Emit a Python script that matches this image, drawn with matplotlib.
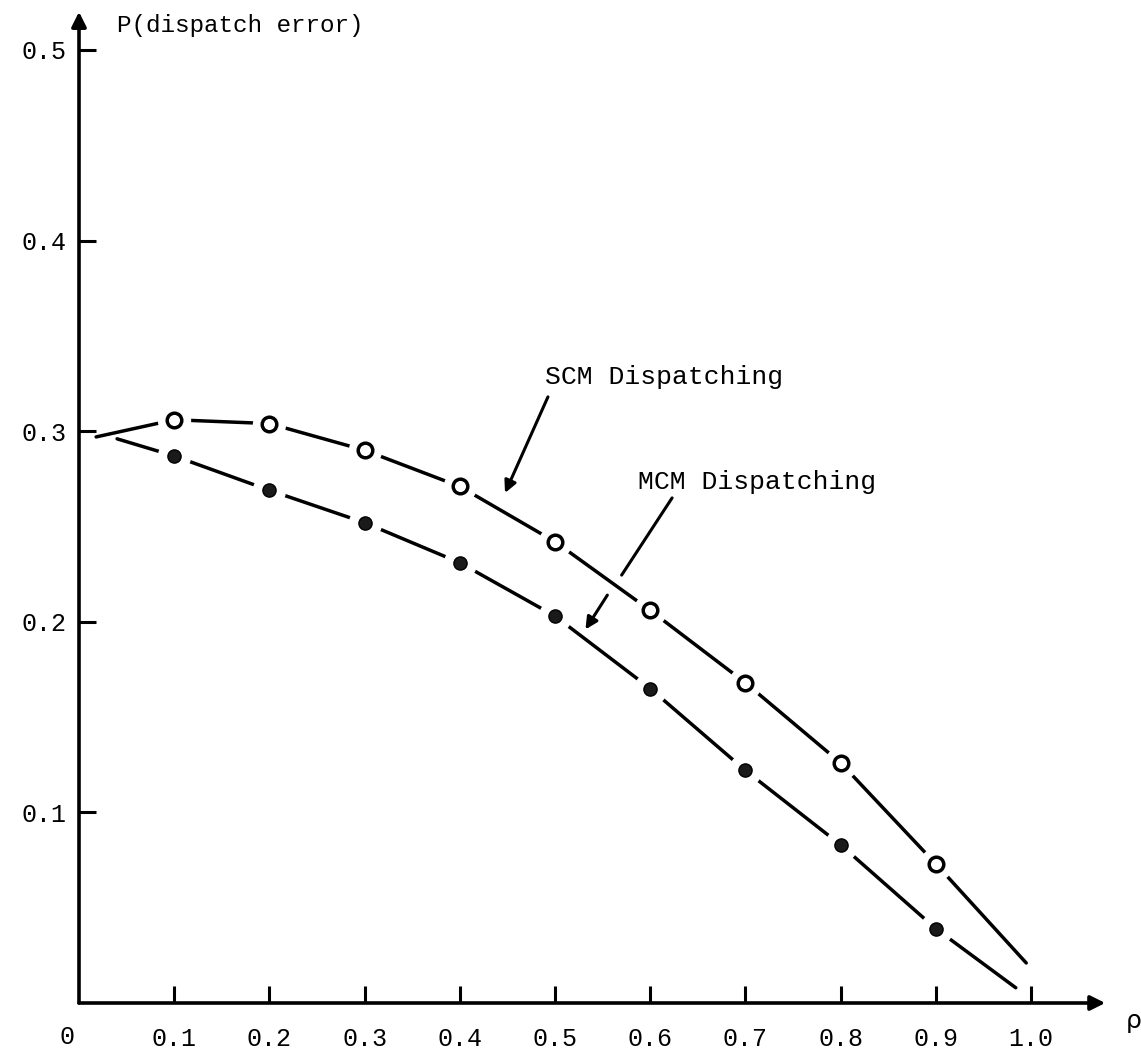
import numpy as np
import matplotlib
matplotlib.use('Agg')
import matplotlib.pyplot as plt

# values
rho = [0.1, 0.2, 0.3, 0.4, 0.5, 0.6, 0.7, 0.8, 0.9]
p_scm = [0.306, 0.304, 0.290, 0.271, 0.242, 0.206, 0.168, 0.126, 0.073]
p_mcm = [0.287, 0.269, 0.252, 0.231, 0.203, 0.165, 0.122, 0.083, 0.039]

# where the hand-drawn curves begin and end (rho, P)
scm_ends = [(0.018, 0.297), (0.995, 0.021)]
mcm_ends = [(0.040, 0.296), (0.984, 0.008)]

xticks = [0.1, 0.2, 0.3, 0.4, 0.5, 0.6, 0.7, 0.8, 0.9, 1.0]
xticklabels = ['0.1', '0.2', '0.3', '0.4', '0.5', '0.6', '0.7', '0.8', '0.9', '1.0']
yticks = [0.1, 0.2, 0.3, 0.4, 0.5]
yticklabels = ['0.1', '0.2', '0.3', '0.4', '0.5']

W, H = 1141, 1052
x0, y0 = 79, 49          # pixel position of the origin (from left / bottom)
sx, sy = 952., 1906.     # pixels per unit

plt.rcParams['font.family'] = ['Liberation Mono', 'DejaVu Sans']
fs = 18

fig = plt.figure(figsize=(W/100., H/100.), dpi=100)
ax = fig.add_axes([x0/W, y0/H, 1 - x0/W, 1 - y0/H])
ax.set_xlim(0, (W - x0)/sx)
ax.set_ylim(0, (H - y0)/sy)
for s in ax.spines.values():
    s.set_visible(False)

def curve(ends, vals):
    xs = [ends[0][0]] + rho + [ends[1][0]]
    ys = [ends[0][1]] + vals + [ends[1][1]]
    return xs, ys

for ends, vals in [(scm_ends, p_scm), (mcm_ends, p_mcm)]:
    xs, ys = curve(ends, vals)
    ax.plot(xs, ys, color='k', lw=2.5, solid_capstyle='round', zorder=3)
    # white halo so the line breaks around every point
    ax.plot(rho, vals, 'o', ms=24, mfc='white', mec='none', zorder=4)

ax.plot(rho, p_scm, 'o', ms=10.5, mfc='white', mec='k', mew=2.5, zorder=5)
ax.plot(rho, p_mcm, 'o', ms=9.5, mfc='#1a1a1a', mec='k', mew=1.0, zorder=5)

# axes drawn as arrows
arr = dict(arrowstyle='-|>', lw=2.6, color='k', mutation_scale=22, shrinkA=0, shrinkB=0)
ax.annotate('', xy=(1.078, 0), xytext=(0, 0), arrowprops=arr, annotation_clip=False)
ax.annotate('', xy=(0, 0.520), xytext=(0, 0), arrowprops=arr, annotation_clip=False)

ax.set_xticks(xticks)
ax.set_xticklabels(xticklabels, fontsize=fs)
ax.set_yticks(yticks)
ax.set_yticklabels(yticklabels, fontsize=fs)
ax.tick_params(axis='x', direction='in', length=12, width=2.2, pad=17)
ax.tick_params(axis='y', direction='in', length=12, width=2.2, pad=9)

ax.text(-0.013, -0.0178, '0', fontsize=fs, ha='center', va='center', clip_on=False)
ax.text(1.108, -0.0095, '\u03c1', fontsize=fs, ha='center', va='center',
        family='DejaVu Sans', clip_on=False)
ax.text(0.040, 0.513, 'P(dispatch error)', fontsize=fs - 0.5, ha='left', va='center')

# curve labels with pointers
lfs = 19
ax.text(0.4895, 0.3284, 'SCM Dispatching', fontsize=lfs, ha='left', va='center')
ptr = dict(arrowstyle='-|>', lw=2.2, color='k', mutation_scale=18, shrinkA=0, shrinkB=0)
ax.annotate('', xy=(0.4475, 0.2676), xytext=(0.4926, 0.318), arrowprops=ptr)

ax.text(0.587, 0.2733, 'MCM Dispatching', fontsize=lfs, ha='left', va='center')
ax.annotate('', xy=(0.570, 0.2245), xytext=(0.623, 0.265),
            arrowprops=dict(arrowstyle='-', lw=2.2, color='k', shrinkA=0, shrinkB=0))
ax.annotate('', xy=(0.532, 0.196), xytext=(0.555, 0.214), arrowprops=ptr)

fig.savefig('out.png', dpi=100, facecolor='white')
